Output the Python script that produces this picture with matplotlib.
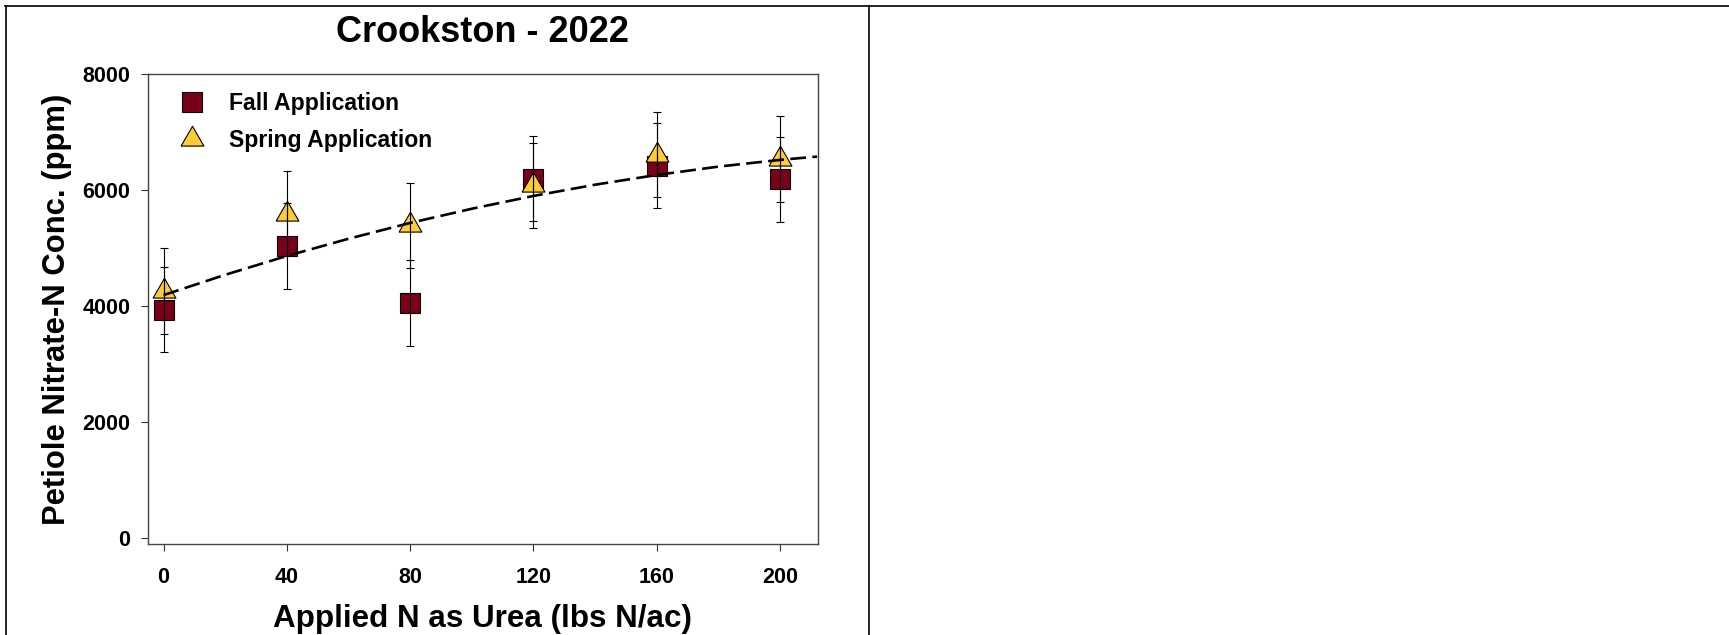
"""Crookston 2022 petiole nitrate-N vs applied urea N (fall vs spring)."""
import matplotlib
matplotlib.use("Agg")
import matplotlib.pyplot as plt
from matplotlib.lines import Line2D

plt.rcParams["font.family"] = ["Liberation Sans", "DejaVu Sans"]
plt.rcParams["font.weight"] = "bold"

# data
n_rate = [0, 40, 80, 120, 160, 200]
fall_mean = [3936, 5030, 4051, 6194, 6419, 6180]
fall_se = [733, 740, 739, 735, 735, 739]
spring_mean = [4255, 5590, 5386, 6078, 6608, 6530]
spring_se = [742, 736, 734, 736, 735, 740]

# fitted response curve (dashed)
fit_x = [0, 20, 40, 60, 80, 100, 120, 140, 160, 180, 200, 212]
fit_y = [4185, 4535, 4860, 5157, 5430, 5675, 5896, 6090, 6258, 6402, 6518, 6575]

x_ticks = [0, 40, 80, 120, 160, 200]
y_ticks = [0, 2000, 4000, 6000, 8000]

MAROON = "#7a0019"
GOLD = "#ffcc33"
W, H = 1729, 635

# equilateral triangle centred on its centroid
tri = [(-1, -0.577), (1, -0.577), (0, 1.155), (-1, -0.577)]

fig = plt.figure(figsize=(W / 100, H / 100), dpi=100)
ax = fig.add_axes([147.5 / W, 1 - 544 / H, (817.7 - 147.5) / W, (544 - 74) / H])

fall_h, = ax.plot(n_rate, fall_mean, ls="none", marker="s", ms=14,
                  mfc=MAROON, mec="black", mew=0.8, zorder=3,
                  label="Fall Application")
spring_h, = ax.plot(n_rate, spring_mean, ls="none", marker=tri, ms=19,
                    mfc=GOLD, mec="black", mew=0.8, zorder=4,
                    label="Spring Application")
ax.errorbar(n_rate, fall_mean, yerr=fall_se, fmt="none", ecolor="black",
            elinewidth=0.8, capsize=2.9, capthick=0.8, zorder=5)
ax.errorbar(n_rate, spring_mean, yerr=spring_se, fmt="none", ecolor="black",
            elinewidth=0.8, capsize=2.9, capthick=0.8, zorder=5)
ax.plot(fit_x, fit_y, color="black", lw=1.9, ls=(0, (6.0, 2.4)), zorder=6)

ax.set_xlim(-5.2, 212.2)
ax.set_ylim(-110, 8000)
ax.set_xticks(x_ticks)
ax.set_yticks(y_ticks)
ax.tick_params(axis="both", direction="out", length=4.7, width=0.8,
               color="#333333", labelsize=15.5, top=False, right=False)
ax.tick_params(axis="x", pad=12)
ax.tick_params(axis="y", pad=7.7)
for sp in ax.spines.values():
    sp.set_linewidth(1.0)
    sp.set_color("#444444")

ax.set_xlabel("Applied N as Urea (lbs N/ac)", fontsize=22.6, fontweight="bold")
ax.xaxis.set_label_coords(0.5, -0.1277)
ax.set_ylabel("Petiole Nitrate-N Conc. (ppm)", fontsize=22.3, fontweight="bold")
ax.yaxis.set_label_coords(-0.1127, 0.5)

fig.text(482.5 / W, 1 - 41.5 / H, "Crookston - 2022", fontsize=26,
         fontweight="bold", ha="center", va="baseline")

ax.legend(handles=[fall_h, spring_h], loc="upper left",
          bbox_to_anchor=(0.0489, 0.962), frameon=False, fontsize=16.6,
          borderpad=0, borderaxespad=0, handlelength=1.0,
          handletextpad=1.12, labelspacing=0.62, numpoints=1)

# table cell borders around the chart
for xs, ys in [([5 / W, 1], [1 - 6 / H, 1 - 6 / H]),
               ([5.5 / W, 5.5 / W], [0, 1 - 6 / H]),
               ([869 / W, 869 / W], [0, 1 - 6 / H])]:
    fig.add_artist(Line2D(xs, ys, transform=fig.transFigure,
                          color="black", lw=1.2))

fig.savefig("out.png", dpi=100)
